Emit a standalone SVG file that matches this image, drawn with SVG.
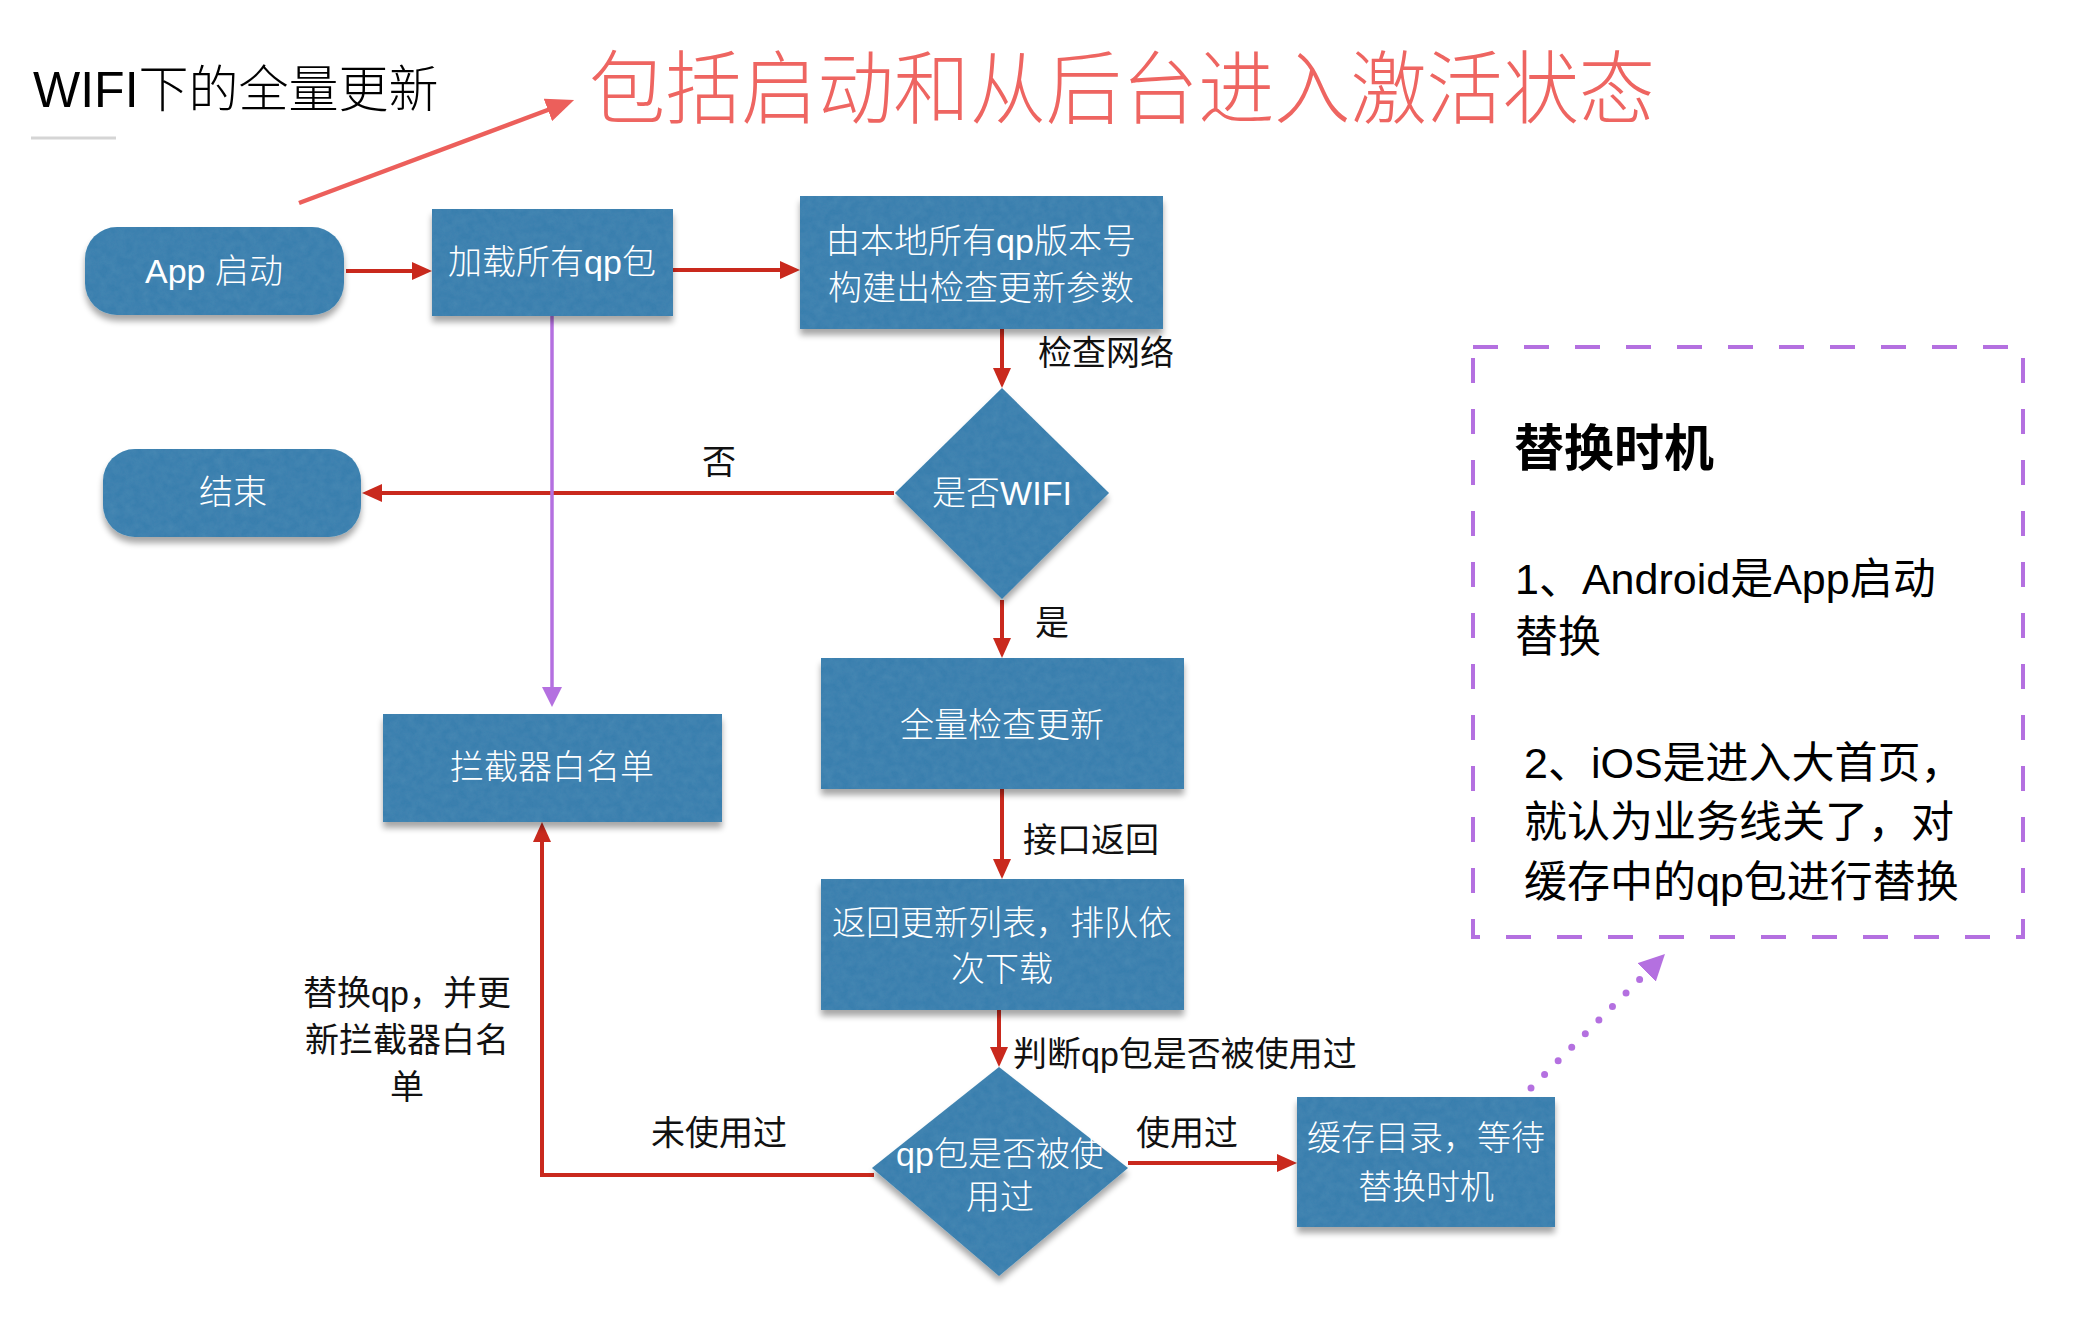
<svg xmlns="http://www.w3.org/2000/svg" width="2098" height="1340" viewBox="0 0 2098 1340">
<defs>
<style>
.t{font-family:"Liberation Sans","Noto Sans CJK SC",sans-serif;dominant-baseline:central}
.nt{fill:#ffffff;font-size:34px;text-anchor:middle;font-weight:300}
.lb{fill:#111111;font-size:34px}
.node{fill:#3a7fae;filter:url(#sh)}
.cr{fill:none;stroke:#c9291d;stroke-width:4}
.cp{fill:none;stroke:#b470e0;stroke-width:3.5}
.side{font-size:43px;fill:#000}
</style>
<filter id="sh" x="-10%" y="-10%" width="120%" height="130%">
<feGaussianBlur in="SourceAlpha" stdDeviation="3"/>
<feOffset dx="0" dy="6"/>
<feComponentTransfer result="shadow"><feFuncA type="linear" slope="0.35"/></feComponentTransfer>
<feTurbulence type="fractalNoise" baseFrequency="0.12" numOctaves="3" seed="7" result="noise"/>
<feColorMatrix in="noise" type="matrix" values="0 0 0 0 0.14  0 0 0 0 0.38  0 0 0 0 0.56  0.3 0 0 0 -0.08" result="tint"/>
<feComposite in="tint" in2="SourceAlpha" operator="in" result="tex"/>
<feMerge><feMergeNode in="shadow"/><feMergeNode in="SourceGraphic"/><feMergeNode in="tex"/></feMerge>
</filter>
<marker id="arrR" markerUnits="userSpaceOnUse" markerWidth="20" markerHeight="18" refX="10" refY="9" orient="auto"><path d="M0,0 L20,9 L0,18 Z" fill="#c9291d"/></marker>
<marker id="arrP" markerUnits="userSpaceOnUse" markerWidth="20" markerHeight="20" refX="10" refY="10" orient="auto"><path d="M0,0 L20,10 L0,20 Z" fill="#b470e0"/></marker>
<marker id="arrP2" markerUnits="userSpaceOnUse" markerWidth="26" markerHeight="26" refX="0" refY="13" orient="auto"><path d="M0,0 L26,13 L0,26 Z" fill="#b470e0"/></marker>
<marker id="arrS" markerUnits="userSpaceOnUse" markerWidth="28" markerHeight="24" refX="14" refY="12" orient="auto"><path d="M0,0 L28,12 L0,24 Z" fill="#ec5f5b"/></marker>
</defs>
<rect width="2098" height="1340" fill="#ffffff"/>

<g id="title">
<text class="t" x="33" y="90" font-size="50" font-weight="300" fill="#000">WIFI下的全量更新</text>
<line x1="31" y1="138" x2="116" y2="138" stroke="#d5d5d5" stroke-width="3"/>
</g>
<g id="note-red">
<text class="t" x="589" y="89" font-size="80" font-weight="300" fill="#ee6561" textLength="1066" lengthAdjust="spacingAndGlyphs">包括启动和从后台进入激活状态</text>
<line x1="299" y1="203" x2="561" y2="105" stroke="#ec5f5b" stroke-width="4.5" marker-end="url(#arrS)"/>
</g>

<g id="connectors">
<line class="cr" x1="346" y1="271" x2="422" y2="271" marker-end="url(#arrR)"/>
<line class="cr" x1="673" y1="270" x2="790" y2="270" marker-end="url(#arrR)"/>
<line class="cr" x1="1002" y1="329" x2="1002" y2="378" marker-end="url(#arrR)"/>
<line class="cr" x1="894" y1="493" x2="372" y2="493" marker-end="url(#arrR)"/>
<line class="cp" x1="552" y1="316" x2="552" y2="697" marker-end="url(#arrP)"/>
<line class="cr" x1="1002" y1="600" x2="1002" y2="648" marker-end="url(#arrR)"/>
<line class="cr" x1="1002" y1="789" x2="1002" y2="869" marker-end="url(#arrR)"/>
<line class="cr" x1="999" y1="1010" x2="999" y2="1057" marker-end="url(#arrR)"/>
<polyline class="cr" points="874,1175 542,1175 542,832" marker-end="url(#arrR)"/>
<line class="cr" x1="1128" y1="1163" x2="1287" y2="1163" marker-end="url(#arrR)"/>
<path d="M1531,1088 L1646.6,972.4" fill="none" stroke="#b470e0" stroke-width="7" stroke-linecap="round" stroke-dasharray="0 19.2" marker-end="url(#arrP2)"/>
<text class="t lb" x="1038" y="353">检查网络</text>
<text class="t lb" x="719" y="462" text-anchor="middle">否</text>
<text class="t lb" x="1052" y="623" text-anchor="middle">是</text>
<text class="t lb" x="1023" y="840">接口返回</text>
<text class="t lb" x="1013" y="1054">判断qp包是否被使用过</text>
<text class="t lb" x="719" y="1133" text-anchor="middle">未使用过</text>
<text class="t lb" x="1136" y="1133">使用过</text>
<text class="t lb" x="407" y="993" text-anchor="middle">替换qp，并更</text>
<text class="t lb" x="407" y="1040" text-anchor="middle">新拦截器白名</text>
<text class="t lb" x="407" y="1087" text-anchor="middle">单</text>
</g>

<g id="n-app">
<rect class="node" x="85" y="227" width="259" height="88" rx="32"/>
<text class="t nt" x="214" y="271">App 启动</text>
</g>
<g id="n-load">
<rect class="node" x="432" y="209" width="241" height="107"/>
<text class="t nt" x="552" y="262">加载所有qp包</text>
</g>
<g id="n-build">
<rect class="node" x="800" y="196" width="363" height="133"/>
<text class="t nt" x="981" y="241">由本地所有qp版本号</text>
<text class="t nt" x="981" y="288">构建出检查更新参数</text>
</g>
<g id="n-wifi">
<polygon class="node" points="1002,388 1109,493 1002,599 895,493"/>
<text class="t nt" x="1002" y="493">是否WIFI</text>
</g>
<g id="n-end">
<rect class="node" x="103" y="449" width="258" height="88" rx="32"/>
<text class="t nt" x="233" y="492">结束</text>
</g>
<g id="n-white">
<rect class="node" x="383" y="714" width="339" height="108"/>
<text class="t nt" x="552" y="767">拦截器白名单</text>
</g>
<g id="n-full">
<rect class="node" x="821" y="658" width="363" height="131"/>
<text class="t nt" x="1002" y="725">全量检查更新</text>
</g>
<g id="n-list">
<rect class="node" x="821" y="879" width="363" height="131"/>
<text class="t nt" x="1002" y="923">返回更新列表，排队依</text>
<text class="t nt" x="1002" y="969">次下载</text>
</g>
<g id="n-used">
<polygon class="node" points="999,1067 1128,1168 999,1276 872,1168"/>
<text class="t nt" x="1000" y="1154">qp包是否被使</text>
<text class="t nt" x="1000" y="1197">用过</text>
</g>
<g id="n-cache">
<rect class="node" x="1297" y="1097" width="258" height="130"/>
<text class="t nt" x="1426" y="1138">缓存目录，等待</text>
<text class="t nt" x="1426" y="1187">替换时机</text>
</g>

<g id="n-timing">
<rect x="1473" y="347" width="550" height="590" fill="none" stroke="#b470e0" stroke-width="4" stroke-dasharray="25 26"/>
<text class="t" x="1514" y="449" font-size="50" font-weight="bold" fill="#000">替换时机</text>
<text class="t side" x="1515" y="579">1、Android是App启动</text>
<text class="t side" x="1515" y="637">替换</text>
<text class="t side" x="1524" y="763">2、iOS是进入大首页，</text>
<text class="t side" x="1524" y="822">就认为业务线关了，对</text>
<text class="t side" x="1524" y="882">缓存中的qp包进行替换</text>
</g>
</svg>
